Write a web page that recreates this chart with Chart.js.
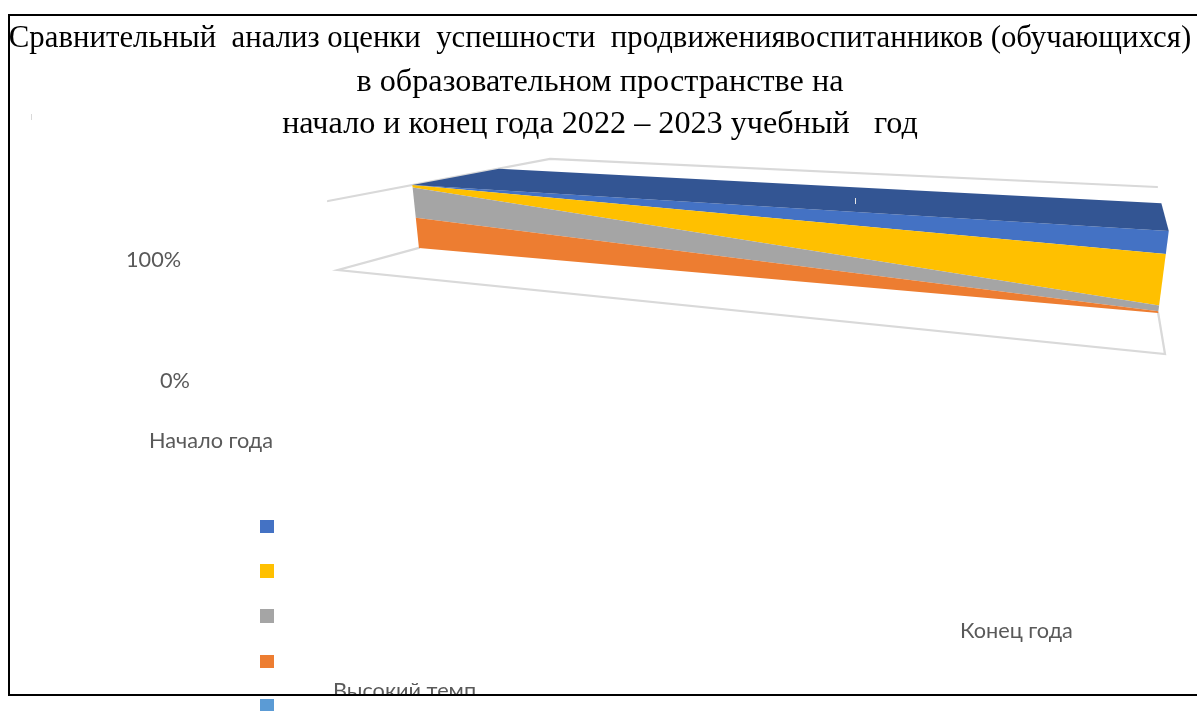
<!DOCTYPE html>
<html lang="ru"><head><meta charset="utf-8">
<style>html,body{margin:0;padding:0;background:#fff;overflow:hidden}canvas{display:block}</style>
<script src="https://cdn.jsdelivr.net/npm/chart.js@4/dist/chart.umd.min.js"></script>
</head><body><canvas id="c" width="1197" height="711"></canvas>
<script>
const titleLine = "Сравнительный  анализ оценки  успешности  продвижениявоспитанников (обучающихся)";
const subtitleLines = ["в образовательном пространстве на",
  "начало и конец года 2022 – 2023 учебный   год"];
const categories = ["Начало года", "Конец года"];
const valueTicks = ["100%", "0%"];
const legendCaption = "Высокий темп";
// series, bottom of the stack first
const seriesBase = [0, 0];
const seriesOrange = [48, 2];
const seriesGray = [48, 7];
const seriesYellow = [4, 63];
const seriesBlue = [0, 28];
const seriesLightBlue = [0, 0];
const legendColors = ["#4472C4", "#FFC000", "#A5A5A5", "#ED7D31", "#5B9BD5"];

const FONT_AXIS = 'Lato';
// 3D box: [x,y] screen anchors for (category u, value v) at the front and back of the depth axis
const front = {a:[338,270], b:[328,201], c:[1165,354], d:[1176,258]};
const back  = {a:[551,212], b:[550,159], c:[1147,246], d:[1157,187]};
const SERIES_DEPTH = 0.38, TOP_BACK_DEPTH = 0.77;
const lerp = (p,q,t) => p + (q-p)*t;
function project(u, v, d) {
  const t = v/100, out = [];
  for (let k = 0; k < 2; k++) {
    const a = lerp(front.a[k], back.a[k], d), b = lerp(front.b[k], back.b[k], d);
    const c = lerp(front.c[k], back.c[k], d), e = lerp(front.d[k], back.d[k], d);
    out.push(lerp(lerp(a,b,t), lerp(c,e,t), u));
  }
  return out;
}

const band = (label, values, color) => ({label, data: values, backgroundColor: color, borderColor: color,
  borderWidth: 0, pointRadius: 0, fill: 'shape', clip: false, order: 5, tension: 0, band: true, depth: [SERIES_DEPTH, SERIES_DEPTH]});
const frameLine = (pts, depth) => ({data: pts, xAxisID: 'xf', yAxisID: 'yf', borderColor: '#d9d9d9', borderWidth: 2.25,
  pointRadius: 0, fill: false, clip: false, order: 20, tension: 0, depth, borderCapStyle: 'round'});

const datasets = [
  Object.assign(band('base', seriesBase, 'rgba(0,0,0,0)'), {fill: false}),
  band('Orange', seriesOrange, '#ED7D31'),
  band('Gray', seriesGray, '#A5A5A5'),
  band('Yellow', seriesYellow, '#FFC000'),
  band('Blue', seriesBlue, '#4472C4'),
  band('LightBlue', seriesLightBlue, '#5B9BD5'),
  frameLine([{x:0,y:0},{x:0,y:0},{x:1,y:0},{x:1,y:0}], [SERIES_DEPTH,0,0,SERIES_DEPTH]),
  frameLine([{x:0,y:100},{x:0,y:100},{x:1,y:100}], [0,1,1]),
  {data:[{x:0,y:100},{x:1,y:100},{x:1,y:100},{x:0,y:100}], xAxisID:'xf', yAxisID:'yf', depth:[SERIES_DEPTH,SERIES_DEPTH,TOP_BACK_DEPTH,TOP_BACK_DEPTH],
   backgroundColor:'#335593', borderWidth:0, pointRadius:0, fill:'shape', clip:false, order:1, tension:0}
];

const box3d = {
  id: 'box3d',
  afterDatasetsUpdate(chart) {
    const metas = chart.data.datasets.map((ds,i) => chart.getDatasetMeta(i));
    chart.data.datasets.forEach((ds,i) => {
      const m = metas[i];
      m.data.forEach((el,j) => {
        const u = m.xScale.getValueForPixel(el.x), v = m.yScale.getValueForPixel(el.y);
        const p = project(u, v, ds.depth[j]);
        el.x = p[0]; el.y = p[1];
      });
    });
    // each stacked band is closed against the band below it
    chart.data.datasets.forEach((ds,i) => {
      if (ds.band && ds.fill === 'shape') {
        metas[i].dataset.points = metas[i].data.concat(metas[i-1].data.slice().reverse());
      }
    });
  },
  afterDraw(chart) {
    const ctx = chart.ctx;
    ctx.save();
    ctx.fillStyle = '#595959';
    ctx.textBaseline = 'alphabetic';
    ctx.textAlign = 'left';
    ctx.font = '21.7px ' + FONT_AXIS;
    ctx.fillText(valueTicks[0], 126, 267);
    ctx.fillText(valueTicks[1], 160, 388);
    ctx.fillText(categories[0], 149, 448);
    ctx.fillText(categories[1], 960, 638);
    ctx.fillText(legendCaption, 333, 698);
    // crop below the frame
    ctx.fillStyle = '#fff';
    ctx.fillRect(0, 695, 1197, 16);
    // legend keys
    const ys = [520, 564, 609, 655, 699], hs = [13, 14, 14, 13, 12];
    legendColors.forEach((col,i) => { ctx.fillStyle = col; ctx.fillRect(260, ys[i], 14, hs[i]); });
    // frame
    ctx.fillStyle = '#000';
    ctx.fillRect(8, 14, 1189, 2);
    ctx.fillRect(8, 14, 2, 682);
    ctx.fillRect(8, 694, 1189, 2);
    // small leftover ticks
    ctx.fillStyle = '#d9d9d9'; ctx.fillRect(31, 114, 1, 6);
    ctx.fillStyle = '#e8e8e8'; ctx.fillRect(855, 198, 1, 6);
    ctx.restore();
  }
};

new Chart(document.getElementById('c'), {
  type: 'line',
  data: { labels: categories, datasets },
  plugins: [box3d],
  options: {
    responsive: false, animation: false, events: [],
    layout: { padding: { left: 3 } },
    plugins: {
      legend: { display: false }, tooltip: { enabled: false },
      title: { display: true, text: titleLine, color: '#000', align: 'center',
        font: { family: '"Liberation Serif"', size: 30.8, weight: 'normal', lineHeight: 1.3 },
        padding: { top: 19, bottom: 2 } },
      subtitle: { display: true, text: subtitleLines, color: '#000', align: 'center',
        font: { family: '"Liberation Serif"', size: 32.2, weight: 'normal', lineHeight: 1.32 },
        padding: { top: 0, bottom: 0 } }
    },
    scales: {
      x: { type: 'category', display: false },
      y: { stacked: true, min: 0, max: 100, display: false },
      xf: { type: 'linear', min: 0, max: 1, display: false },
      yf: { type: 'linear', min: 0, max: 100, display: false }
    }
  }
});
</script></body></html>
